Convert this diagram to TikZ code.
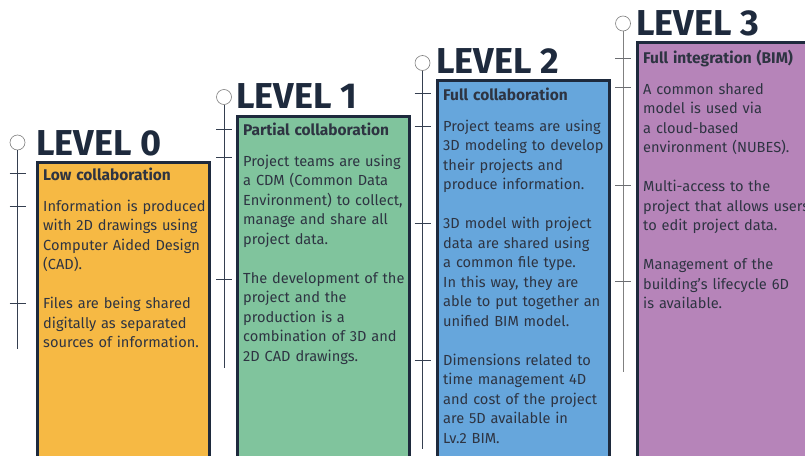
\documentclass[tikz,border=0pt]{standalone}
\usepackage{fontspec}
\setmainfont{Fira Sans}
\usepackage{tikz}

\definecolor{lvlorange}{HTML}{F6B944}
\definecolor{lvlgreen}{HTML}{80C49D}
\definecolor{lvlblue}{HTML}{66A6DC}
\definecolor{lvlpurple}{HTML}{B684B9}
\definecolor{navy}{HTML}{1E2A3D}
\definecolor{bodytext}{HTML}{2E3442}

\newcommand{\boxtitle}[1]{{\fontsize{15.5}{19.5}\selectfont\bfseries #1}}

\begin{document}
\begin{tikzpicture}[x=1pt,y=-1pt,
    levelbox/.style={draw=navy,line width=3pt},
    levelname/.style={anchor=base west,inner sep=0pt,text=navy,font=\fontsize{36}{36}\selectfont\bfseries},
    boxtext/.style={anchor=north west,inner sep=0pt,text width=170pt,align=left,text=bodytext,font=\fontsize{14.6}{19.5}\selectfont},
    knob/.style={draw=gray,fill=white,circle,line width=0.6pt,minimum size=15pt,inner sep=0pt},
    stem/.style={navy!90,line width=0.9pt},
    tick/.style={navy!90,line width=0.6pt}]
  \useasboundingbox (0,0) rectangle (805,455);
  \clip (0,0) rectangle (805,455);

  % Level 0
  \filldraw[levelbox,fill=lvlorange] (37.5,162.5) rectangle (209.5,470);
  \node[levelname] (t0) at (36,155) {LEVEL 0};
  \node[knob] (c0) at (17.5,142.5) {};
  \coordinate (e0) at (17.5,349);
  \draw[stem] (c0.south) -- (e0);
  \foreach \y in {173,206,303} \draw[tick] (9.5,\y) -- (25.5,\y);
  \node[boxtext] (b0) at (43,168) {\boxtitle{Low collaboration}\\[11pt]
    Information is produced\\ with 2D drawings using\\ Computer Aided Design\\ (CAD).\\[19.5pt]
    Files are being shared\\ digitally as separated\\ sources of information.};

  % Level 1
  \filldraw[levelbox,fill=lvlgreen] (237.5,116.5) rectangle (409.5,470);
  \node[levelname] (t1) at (236,108) {LEVEL 1};
  \node[knob] (c1) at (224,97) {};
  \coordinate (e1) at (224,368);
  \draw[stem] (c1.south) -- (e1);
  \foreach \y in {129,157,279} \draw[tick] (216,\y) -- (232,\y);
  \node[boxtext] (b1) at (243,123) {\boxtitle{Partial collaboration}\\[11pt]
    Project teams are using\\ a CDM (Common Data\\ Environment) to collect,\\ manage and share all\\ project data.\\[19.5pt]
    The development of the\\ project and the\\ production is a\\ combination of 3D and\\ 2D CAD drawings.};

  % Level 2
  \filldraw[levelbox,fill=lvlblue] (437.5,80.5) rectangle (609.5,470);
  \node[levelname] (t2) at (436,73) {LEVEL 2};
  \node[knob] (c2) at (422.5,63) {};
  \coordinate (e2) at (422.5,449);
  \draw[stem] (c2.south) -- (e2);
  \foreach \y in {93,126,223,360} \draw[tick] (414.5,\y) -- (430.5,\y);
  \node[boxtext] (b2) at (443,88) {\boxtitle{Full collaboration}\\[11pt]
    Project teams are using\\ 3D modeling to develop\\ their projects and\\ produce information.\\[19.5pt]
    3D model with project\\ data are shared using\\ a common file type.\\ In this way, they are\\ able to put together an\\ unified BIM model.\\[19.5pt]
    Dimensions related to\\ time management 4D\\ and cost of the project\\ are 5D available in\\ Lv.2 BIM.};

  % Level 3
  \filldraw[levelbox,fill=lvlpurple] (637.5,42.5) rectangle (815,470);
  \node[levelname] (t3) at (636,35) {LEVEL 3};
  \node[knob] (c3) at (623,23.5) {};
  \coordinate (e3) at (623,372);
  \draw[stem,gray] (c3.south) -- (e3);
  \foreach \y in {58,87,185,281} \draw[tick,gray!80!navy] (615,\y) -- (631,\y);
  \node[boxtext] (b3) at (643,50) {\boxtitle{Full integration (BIM)}\\[11pt]
    A common shared\\ model is used via\\ a cloud-based\\ environment (NUBES).\\[19.5pt]
    Multi-access to the\\ project that allows users\\ to edit project data.\\[19.5pt]
    Management of the\\ building's lifecycle 6D\\ is available.};
\end{tikzpicture}
\end{document}
